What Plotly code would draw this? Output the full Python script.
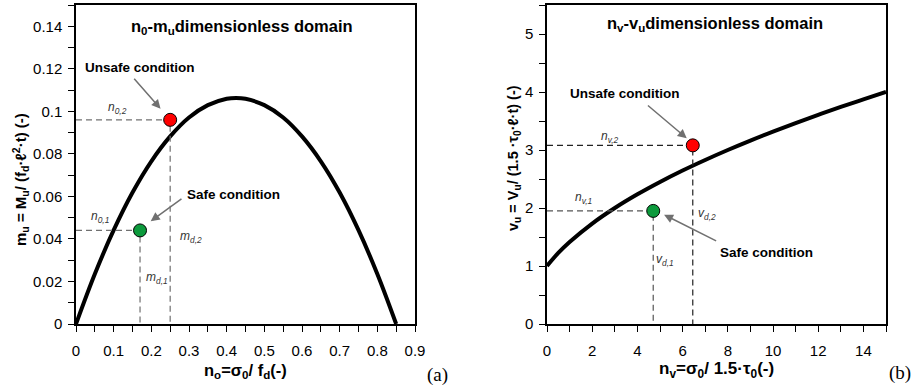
import plotly.graph_objects as go

# ---- Data (a) ----
n0 = [0, 0.05, 0.1, 0.15, 0.2, 0.25, 0.3, 0.35, 0.4, 0.425, 0.45, 0.5, 0.55, 0.6, 0.65, 0.7, 0.75, 0.8, 0.85]
mu = [0, 0.0235, 0.0441, 0.0618, 0.0765, 0.0882, 0.0971, 0.1029, 0.1059, 0.1063, 0.1059, 0.1029, 0.0971, 0.0882, 0.0765, 0.0618, 0.0441, 0.0235, 0]
pt_a_safe = (0.17, 0.044)
pt_a_unsafe = (0.25, 0.096)

# ---- Data (b) ----
nv = [0, 0.5, 1, 2, 3, 4, 5, 6, 7, 8, 9, 10, 11, 12, 13, 14, 15]
vu = [1, 1.225, 1.414, 1.732, 2.0, 2.236, 2.449, 2.646, 2.828, 3.0, 3.162, 3.317, 3.464, 3.606, 3.742, 3.873, 4.0]
pt_b_safe = (4.7, 1.95)
pt_b_unsafe = (6.45, 3.08)

FONT = "Liberation Sans, Arial, sans-serif"
GRAY = "#707070"
fig = go.Figure()

# curves
fig.add_trace(go.Scatter(x=n0, y=mu, mode="lines", line=dict(color="black", width=4, shape="spline"),
                         xaxis="x", yaxis="y", showlegend=False))
fig.add_trace(go.Scatter(x=nv, y=vu, mode="lines", line=dict(color="black", width=4, shape="spline"),
                         xaxis="x2", yaxis="y2", showlegend=False))

def guides(pt, xa, ya, color, dash):
    fig.add_trace(go.Scatter(x=[0, pt[0], pt[0]], y=[pt[1], pt[1], 0], mode="lines",
                             line=dict(color=color, width=1.2, dash=dash),
                             xaxis=xa, yaxis=ya, showlegend=False))

guides(pt_a_unsafe, "x", "y", GRAY, "6px,4px")
guides(pt_a_safe, "x", "y", GRAY, "6px,4px")
guides(pt_b_unsafe, "x2", "y2", "#222", "6px,4px")
guides(pt_b_safe, "x2", "y2", "#555", "6px,4px")

def marker(pt, xa, ya, col):
    fig.add_trace(go.Scatter(x=[pt[0]], y=[pt[1]], mode="markers",
                             marker=dict(color=col, size=13, line=dict(color="black", width=1)),
                             xaxis=xa, yaxis=ya, showlegend=False))

marker(pt_a_unsafe, "x", "y", "#ff0000")
marker(pt_a_safe, "x", "y", "#0c9a3c")
marker(pt_b_unsafe, "x2", "y2", "#ff0000")
marker(pt_b_safe, "x2", "y2", "#0c9a3c")

axis_common = dict(showgrid=False, zeroline=False, showline=True, linecolor="black", linewidth=1.5,
                   mirror=True, ticks="outside", ticklen=6, tickwidth=1.2, tickcolor="black",
                   automargin=False,
                   tickfont=dict(family=FONT, size=15, color="black"))

fig.update_layout(
    width=919, height=390,
    margin=dict(l=0, r=0, t=0, b=0, autoexpand=False),
    plot_bgcolor="white", paper_bgcolor="white",
    xaxis=dict(domain=[76/919, 415/919], range=[0, 0.9], dtick=0.1, tick0=0, ticklabelstandoff=6,
               minor=dict(dtick=0.05, ticks="outside", ticklen=6, tickcolor="black"), anchor="y", **axis_common),
    yaxis=dict(domain=[1-324/390, 1-5/390], range=[0, 0.15], dtick=0.02, tick0=0, ticklabelstandoff=3,
               minor=dict(dtick=0.01, ticks="outside", ticklen=6, tickcolor="black"), anchor="x", **axis_common),
    xaxis2=dict(domain=[547/919, 886/919], range=[0, 15], dtick=2, tick0=0, ticklabelstandoff=6,
                minor=dict(dtick=1, ticks="outside", ticklen=6, tickcolor="black"), anchor="y2", **axis_common),
    yaxis2=dict(domain=[1-324/390, 1-5/390], range=[0, 5.5], dtick=1, tick0=0, ticklabelstandoff=3,
                minor=dict(dtick=0.5, ticks="outside", ticklen=6, tickcolor="black"), anchor="x2", **axis_common),
)

ann = []
def txt(x, y, t, xref, yref, size=12, italic=False, bold=False, color="black", family=FONT, angle=0):
    s = t
    if italic:
        s = "<i>" + s + "</i>"
    if bold:
        s = "<b>" + s + "</b>"
    ann.append(dict(x=x, y=y, xref=xref, yref=yref, text=s, showarrow=False, textangle=angle,
                    xanchor="center", yanchor="middle",
                    font=dict(family=family, size=size, color=color)))

def arrow(head, tail, xref, yref):
    ann.append(dict(x=head[0], y=head[1], ax=tail[0], ay=tail[1], xref=xref, yref=yref,
                    axref=xref, ayref=yref, text="", showarrow=True, arrowhead=2, arrowsize=1.2,
                    arrowwidth=1.5, arrowcolor=GRAY, standoff=2))

# Panel (a)
txt(242/919, 1-27/390, "n<sub>0</sub>-m<sub>u</sub>dimensionless domain", "paper", "paper", size=16.5, bold=True)
txt(0.17, 0.1208, "Unsafe condition", "x", "y", size=13.5, bold=True)
arrow((0.228, 0.1005), (0.151, 0.116), "x", "y")
txt(0.417, 0.0608, "Safe condition", "x", "y", size=13.5, bold=True)
arrow((0.194, 0.0478), (0.284, 0.0594), "x", "y")
txt(0.11, 0.1015, "n<sub>0,2</sub>", "x", "y", italic=True, color="#333")
txt(0.064, 0.0505, "n<sub>0,1</sub>", "x", "y", italic=True, color="#333")
txt(0.305, 0.041, "m<sub>d,2</sub>", "x", "y", italic=True, color="#333")
txt(0.215, 0.0215, "m<sub>d,1</sub>", "x", "y", italic=True, color="#333")
txt(245/919, 1-371/390, "n<sub>o</sub>=σ<sub>0</sub>/ f<sub>d</sub>(-)", "paper", "paper", size=16.5, bold=True)
txt(20/919, 1-180/390, "m<sub>u</sub> = M<sub>u</sub>/ (f<sub>d</sub>·ℓ<sup>2</sup>·t) (-)", "paper", "paper",
    size=15, bold=True, angle=-90)
txt(437/919, 1-375/390, "(a)", "paper", "paper", size=19, family="Liberation Serif, Times New Roman, serif")

# Panel (b)
txt(715/919, 1-24/390, "n<sub>v</sub>-v<sub>u</sub>dimensionless domain", "paper", "paper", size=16.5, bold=True)
txt(3.45, 3.98, "Unsafe condition", "x2", "y2", size=13.5, bold=True)
arrow((6.25, 3.18), (4.4, 3.79), "x2", "y2")
txt(9.7, 1.24, "Safe condition", "x2", "y2", size=13.5, bold=True)
arrow((5.1, 1.9), (7.55, 1.42), "x2", "y2")
txt(2.8, 3.22, "n<sub>v,2</sub>", "x2", "y2", italic=True, color="#333")
txt(1.6, 2.17, "n<sub>v,1</sub>", "x2", "y2", italic=True, color="#333")
txt(7.1, 1.9, "v<sub>d,2</sub>", "x2", "y2", italic=True, color="#333")
txt(5.2, 1.1, "v<sub>d,1</sub>", "x2", "y2", italic=True, color="#333")
txt(716/919, 1-370/390, "n<sub>v</sub>=σ<sub>0</sub>/ 1.5·τ<sub>0</sub>(-)", "paper", "paper", size=17, bold=True)
txt(514/919, 1-158/390, "v<sub>u</sub> = V<sub>u</sub>/ (1.5 ·τ<sub>0</sub>·ℓ·t) (-)", "paper", "paper",
    size=14.5, bold=True, angle=-90)
txt(900/919, 1-373/390, "(b)", "paper", "paper", size=19, family="Liberation Serif, Times New Roman, serif")

fig.update_layout(annotations=ann)
fig.write_html("out.html")
